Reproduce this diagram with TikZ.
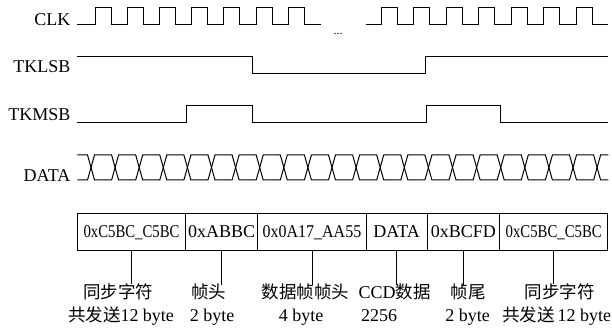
\documentclass[tikz,border=0pt]{standalone}
\usepackage{fontspec}
\usepackage{graphicx}
\setmainfont{Liberation Serif}
\newfontfamily\cjk{Noto Sans CJK SC}
\newcommand\zh[1]{{\cjk\fontsize{17.5pt}{20pt}\selectfont #1}}
\begin{document}
\begin{tikzpicture}[x=1pt,y=-1pt,
  sig/.style={line width=1pt, line join=miter},
  siglabel/.style={anchor=base east, inner sep=0pt},
  cell/.style={draw, line width=0.8pt, anchor=north west, minimum height=36.7pt,
    inner sep=0pt, text height=11.9pt, text depth=0pt},
  lab/.style={anchor=base, inner sep=0pt},
  conn/.style={line width=0.8pt},
  every node/.style={font=\fontsize{18pt}{20pt}\selectfont}]
\useasboundingbox (0,0) rectangle (612,328);

% signal labels
\node[siglabel] (lclk) at (70.5,26) {CLK};
\node[siglabel] (llsb) at (70.5,73) {TKLSB};
\node[siglabel] (lmsb) at (70.5,121) {TKMSB};
\node[siglabel] (ldat) at (70.5,181.5) {DATA};

% CLK
\draw[sig] (77.3,25) \foreach \k in {0,...,6}{
  -- ({95+32.2*\k},25) -- ({95+32.2*\k},7.3) -- ({111+32.2*\k},7.3) -- ({111+32.2*\k},25)}
  -- (320.7,25);
\draw[sig] (365.7,25) \foreach \k in {0,...,6}{
  -- ({381+32.5*\k},25) -- ({381+32.5*\k},7.3) -- ({397+32.5*\k},7.3) -- ({397+32.5*\k},25)}
  -- (608.3,25);
\node[anchor=base, inner sep=0pt, font=\fontsize{12pt}{12pt}\selectfont] (dots) at (338,34.5) {...};

% TKLSB
\draw[sig] (77.3,57) -- (252.7,57) -- (252.7,74) -- (425.7,74) -- (425.7,57) -- (608.3,57);
% TKMSB
\draw[sig] (77.3,122.7) -- (186,122.7) -- (186,105.3) -- (252.7,105.3) -- (252.7,122.7)
  -- (426,122.7) -- (426,105.3) -- (500.3,105.3) -- (500.3,122.7) -- (608.3,122.7);

% DATA
\draw[sig] (77.3,155) \foreach \k in {0,2,...,20}{
  -- ({91+24.1*\k-3.5},155) -- ({91+24.1*\k+3.5},180)
  -- ({91+24.1*(\k+1)-3.5},180) -- ({91+24.1*(\k+1)+3.5},155)} -- (608.3,155);
\draw[sig] (77.3,180) \foreach \k in {0,2,...,20}{
  -- ({91+24.1*\k-3.5},180) -- ({91+24.1*\k+3.5},155)
  -- ({91+24.1*(\k+1)-3.5},155) -- ({91+24.1*(\k+1)+3.5},180)} -- (608.3,180);

% frame boxes
\node[cell, minimum width=107.7pt] (b1) at (77.3,213.3) {\scalebox{0.82}[1]{0xC5BC\_C5BC}};
\node[cell, minimum width=72.3pt] (b2) at (185,213.3) {0xABBC};
\node[cell, minimum width=108.4pt] (b3) at (257.3,213.3) {\scalebox{0.89}[1]{0x0A17\_AA55}};
\node[cell, minimum width=61pt] (b4) at (365.7,213.3) {DATA};
\node[cell, minimum width=72.6pt] (b5) at (426.7,213.3) {0xBCFD};
\node[cell, minimum width=108pt] (b6) at (499.3,213.3) {\scalebox{0.82}[1]{0xC5BC\_C5BC}};

% labels
\node[lab] (la1) at (118,298) {\zh{同步字符}};
\node[lab] (lb1) at (121,321.5) {\zh{共发送}12 byte};
\node[lab] (la2) at (208.7,298) {\zh{帧头}};
\node[lab] (lb2) at (212,321.5) {2 byte};
\node[lab] (la3) at (305.3,298) {\zh{数据帧帧头}};
\node[lab] (lb3) at (301,321.5) {4 byte};
\node[lab] (la4) at (394.5,298) {CCD\zh{数据}};
\node[lab] (lb4) at (379,321.5) {2256};
\node[lab] (la5) at (468.3,298) {\zh{帧尾}};
\node[lab] (lb5) at (467.5,321.5) {2 byte};
\node[lab] (la6) at (559.5,298) {\zh{同步字符}};
\node[lab] (lb6) at (556.7,321.5) {\zh{共发送}\,12 byte};

% connectors
\foreach \i in {1,...,6}{
  \draw[conn] (b\i.south) -- ([yshift=-1.5pt]b\i.south |- la\i.north);
}
\end{tikzpicture}
\end{document}
